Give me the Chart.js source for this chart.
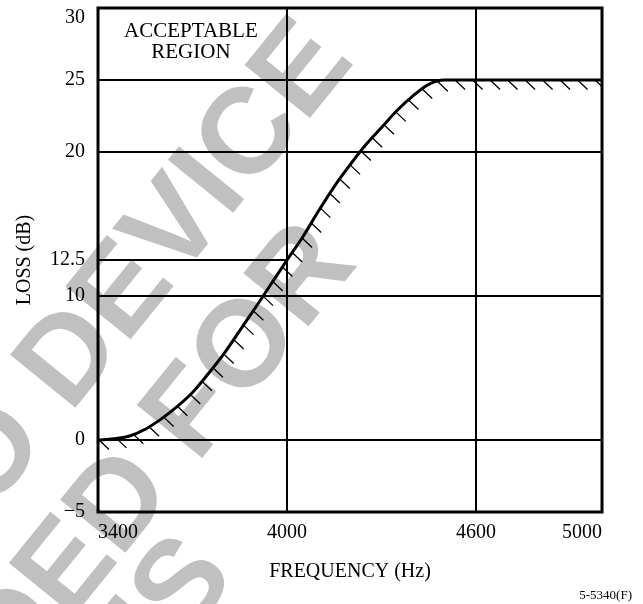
<!DOCTYPE html>
<html>
<head>
<meta charset="utf-8">
<script src="https://cdn.jsdelivr.net/npm/chart.js@4.4.1/dist/chart.umd.min.js"></script>
<style>
  html, body { margin: 0; padding: 0; background: #fff; }
  #wrap { width: 643px; height: 604px; }
</style>
</head>
<body>
<div id="wrap"><canvas id="graphics" width="643" height="604"></canvas></div>
<script>
// loss mask
const frequencies = [3400, 3450, 3500, 3550, 3600, 3650, 3700, 3750, 3800, 3850, 3900, 3950,
  4000, 4050, 4100, 4150, 4200, 4250, 4300, 4350, 4400, 4450, 4500, 4600, 4800, 5000];
const lossValues = [0, 0.08, 0.28, 0.75, 1.45, 2.3, 3.3, 4.6, 6.0, 7.6, 9.2, 10.85,
  12.5, 14.1, 15.9, 17.6, 19.1, 20.5, 21.7, 22.9, 23.9, 24.7, 25, 25, 25, 25];

// the 12.5 dB line only runs up to 4000 Hz
const refFrequencies = [3400, 4000];
const refLoss = [12.5, 12.5];

const xTicks = [3400, 4000, 4600, 5000];
const yTicks = [-5, 0, 10, 12.5, 20, 25, 30];
const xGrid = [4000, 4600];
const yGrid = [0, 10, 20, 25];

const serif = '"Liberation Serif", "Times New Roman", serif';

const watermark = [
  { text: 'TO DEVICE', x: 356, y: 61 },
  { text: 'INTENDED FOR', x: 359, y: 264 },
  { text: 'THIS', x: 237, y: 577 }
];

const backdrop = {
  id: 'backdrop',
  beforeDraw(chart) {
    const ctx = chart.ctx;
    ctx.save();
    ctx.fillStyle = '#c0c0c0';
    ctx.font = 'bold 122px "Liberation Sans", Arial, sans-serif';
    ctx.textAlign = 'right';
    ctx.textBaseline = 'alphabetic';
    watermark.forEach(w => {
      ctx.save();
      ctx.translate(w.x, w.y);
      ctx.rotate(-51 * Math.PI / 180);
      ctx.fillText(w.text, 0, 0);
      ctx.restore();
    });
    ctx.restore();
  }
};

const hatching = {
  id: 'hatching',
  afterDatasetsDraw(chart) {
    const {ctx, chartArea} = chart;
    const pts = chart.getDatasetMeta(0).data.map(p => ({x: p.x, y: p.y}));
    const gap = 17.5;
    ctx.save();
    ctx.beginPath();
    ctx.rect(chartArea.left, chartArea.top, chartArea.width, chartArea.height);
    ctx.clip();
    ctx.strokeStyle = '#000';
    ctx.lineWidth = 1.3;
    ctx.beginPath();
    let next = 1;
    let done = 0;
    for (let i = 1; i < pts.length; i++) {
      const a = pts[i - 1], b = pts[i];
      const len = Math.hypot(b.x - a.x, b.y - a.y);
      while (next <= done + len) {
        const t = (next - done) / len;
        const x = a.x + t * (b.x - a.x);
        const y = a.y + t * (b.y - a.y);
        ctx.moveTo(x, y);
        ctx.lineTo(x + 10, y + 9.5);
        next += gap;
      }
      done += len;
    }
    ctx.stroke();
    ctx.restore();
  }
};

const frame = {
  id: 'frame',
  afterDraw(chart) {
    const {ctx, chartArea, scales} = chart;
    ctx.save();
    ctx.strokeStyle = '#000';
    ctx.lineWidth = 3;
    ctx.strokeRect(chartArea.left, chartArea.top, chartArea.width, chartArea.height);

    ctx.fillStyle = '#000';
    ctx.font = '21px ' + serif;
    ctx.textAlign = 'center';
    ctx.textBaseline = 'middle';
    const cx = scales.x.getPixelForValue(3695);
    ctx.fillText('ACCEPTABLE', cx, scales.y.getPixelForValue(28.35));
    ctx.fillText('REGION', cx, scales.y.getPixelForValue(26.9));

    ctx.font = '13px ' + serif;
    ctx.textAlign = 'right';
    ctx.fillText('5-5340(F)', 632, 596);
    ctx.restore();
  }
};

// top label sits just inside the frame, like the original
function yLabel(v) {
  const text = v < 0 ? '\u2212' + Math.abs(v) : String(v);
  return v === 30 ? ['', text] : text;
}

const chart = new Chart(document.getElementById('graphics').getContext('2d'), {
  type: 'line',
  data: {
    datasets: [
      {
        data: frequencies.map((f, i) => ({x: f, y: lossValues[i]})),
        borderColor: '#000',
        borderWidth: 3,
        pointRadius: 0,
        cubicInterpolationMode: 'monotone',
        fill: false
      },
      {
        data: refFrequencies.map((f, i) => ({x: f, y: refLoss[i]})),
        borderColor: '#000',
        borderWidth: 2,
        pointRadius: 0,
        fill: false
      }
    ]
  },
  options: {
    responsive: false,
    animation: false,
    devicePixelRatio: 1,
    layout: { padding: { left: 0, right: 41, top: 8, bottom: 0 } },
    plugins: { legend: { display: false }, tooltip: { enabled: false } },
    scales: {
      x: {
        type: 'linear',
        min: 3400,
        max: 5000,
        afterBuildTicks: scale => { scale.ticks = xTicks.map(v => ({value: v})); },
        afterFit: scale => {
          scale.height = 92;
          scale.paddingLeft = 0;
          scale.paddingRight = 0;
        },
        ticks: {
          align: 'inner',
          color: '#000',
          padding: 9,
          maxRotation: 0,
          font: { family: serif, size: 20 },
          callback: v => String(v)
        },
        grid: {
          drawTicks: false,
          lineWidth: 2,
          color: c => xGrid.includes(c.tick.value) ? '#000' : 'rgba(0,0,0,0)'
        },
        border: { display: false },
        title: {
          display: true,
          text: 'FREQUENCY (Hz)',
          color: '#000',
          font: { family: serif, size: 20 },
          padding: { top: 0, bottom: 20 }
        }
      },
      y: {
        type: 'linear',
        min: -5,
        max: 30,
        afterBuildTicks: scale => { scale.ticks = yTicks.map(v => ({value: v})); },
        afterFit: scale => {
          scale.width = 98;
          scale.paddingTop = 0;
          scale.paddingBottom = 0;
        },
        ticks: {
          color: '#000',
          padding: 13,
          font: { family: serif, size: 20, lineHeight: 1 },
          callback: yLabel
        },
        grid: {
          drawTicks: false,
          lineWidth: 2,
          color: c => yGrid.includes(c.tick.value) ? '#000' : 'rgba(0,0,0,0)'
        },
        border: { display: false },
        title: {
          display: true,
          text: 'LOSS (dB)',
          color: '#000',
          font: { family: serif, size: 20 },
          padding: { top: 13, bottom: 0 }
        }
      }
    }
  },
  plugins: [backdrop, hatching, frame]
});
</script>
</body>
</html>
